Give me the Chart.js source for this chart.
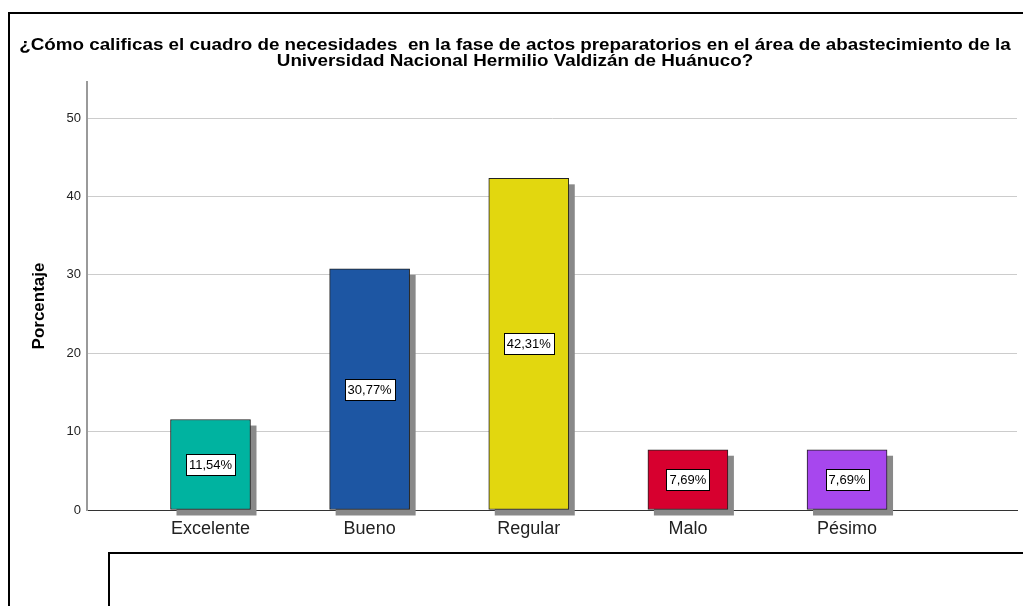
<!DOCTYPE html>
<html><head><meta charset="utf-8">
<script src="https://cdn.jsdelivr.net/npm/chart.js@4.4.0/dist/chart.umd.min.js"></script>
<style>html,body{margin:0;padding:0;background:#fff;}#wrap{width:1023px;height:606px;}</style>
</head><body><div id="wrap"><canvas id="c" width="1023" height="606"></canvas></div>
<script>
const titleLines = ['¿Cómo calificas el cuadro de necesidades  en la fase de actos preparatorios en el área de abastecimiento de la', 'Universidad Nacional Hermilio Valdizán de Huánuco?'];
const categories = ['Excelente', 'Bueno', 'Regular', 'Malo', 'Pésimo'];
const percentages = [11.54, 30.77, 42.31, 7.69, 7.69];
const valueLabels = ['11,54%', '30,77%', '42,31%', '7,69%', '7,69%'];
const barColors = ['#00B3A0', '#1D56A3', '#E2D70F', '#D7002F', '#A747EE'];
const yTitle = 'Porcentaje';

const FONT = "'Liberation Sans', Arial, sans-serif";

const framePlugin = {
  id: 'frame',
  beforeDraw(chart) {
    const ctx = chart.ctx;
    ctx.save();
    ctx.fillStyle = '#fff';
    ctx.fillRect(0, 0, chart.width, chart.height);
    ctx.strokeStyle = '#000';
    ctx.lineWidth = 2;
    ctx.beginPath();
    ctx.moveTo(9, chart.height + 5); ctx.lineTo(9, 13); ctx.lineTo(chart.width + 5, 13);
    ctx.stroke();
    ctx.beginPath();
    ctx.moveTo(109, chart.height + 5); ctx.lineTo(109, 553); ctx.lineTo(chart.width + 5, 553);
    ctx.stroke();
    ctx.restore();
  }
};

const titlePlugin = {
  id: 'wideTitle',
  afterDraw(chart) {
    const ctx = chart.ctx;
    ctx.save();
    ctx.font = 'bold 16px ' + FONT;
    ctx.fillStyle = '#000';
    ctx.textAlign = 'center';
    ctx.textBaseline = 'alphabetic';
    const sx = 1.175;
    ctx.translate(515, 0);
    ctx.scale(sx, 1);
    ctx.fillText(titleLines[0], 0, 50);
    ctx.fillText(titleLines[1], 0, 66);
    ctx.restore();
  }
};

const shadowPlugin = {
  id: 'barShadow',
  beforeDatasetsDraw(chart) {
    const ctx = chart.ctx;
    const meta = chart.getDatasetMeta(0);
    ctx.save();
    ctx.fillStyle = '#898989';
    meta.data.forEach(el => {
      const p = el.getProps(['x', 'y', 'base', 'width'], true);
      ctx.fillRect(p.x - p.width / 2 + 6, p.y + 6, p.width, p.base - p.y);
    });
    ctx.restore();
  }
};

const labelPlugin = {
  id: 'valueBoxes',
  afterDatasetsDraw(chart) {
    const ctx = chart.ctx;
    const meta = chart.getDatasetMeta(0);
    ctx.save();
    ctx.font = '13px ' + FONT;
    ctx.textAlign = 'center';
    ctx.textBaseline = 'middle';
    meta.data.forEach((el, i) => {
      const p = el.getProps(['x', 'y', 'base'], true);
      const cy = (p.y + p.base) / 2;
      const w = ctx.measureText(valueLabels[i]).width + 6;
      const h = 21;
      ctx.fillStyle = '#fff';
      ctx.fillRect(Math.round(p.x - w / 2) + 0.5, Math.round(cy - h / 2) + 0.5, Math.round(w), h);
      ctx.strokeStyle = '#000';
      ctx.lineWidth = 1;
      ctx.strokeRect(Math.round(p.x - w / 2) + 0.5, Math.round(cy - h / 2) + 0.5, Math.round(w), h);
      ctx.fillStyle = '#000';
      ctx.fillText(valueLabels[i], p.x, cy + 1);
    });
    ctx.restore();
  }
};

const yTitlePlugin = {
  id: 'yTitle',
  afterDraw(chart) {
    const ctx = chart.ctx;
    ctx.save();
    ctx.translate(39, 306);
    ctx.rotate(-Math.PI / 2);
    ctx.font = 'bold 17px ' + FONT;
    ctx.fillStyle = '#000';
    ctx.textAlign = 'center';
    ctx.textBaseline = 'middle';
    ctx.fillText(yTitle, 0, 0);
    ctx.restore();
  }
};

new Chart(document.getElementById('c'), {
  type: 'bar',
  data: {
    datasets: [{
      data: categories.map((c, i) => ({ x: i, y: percentages[i] })),
      backgroundColor: barColors,
      borderColor: '#222',
      borderWidth: 1,
      borderSkipped: false,
      barThickness: 80
    }]
  },
  options: {
    responsive: false,
    devicePixelRatio: 1,
    animation: false,
    layout: { padding: { left: 0, right: 6, top: 82, bottom: 0 } },
    plugins: {
      legend: { display: false },
      tooltip: { enabled: false },
      title: { display: false }
    },
    scales: {
      x: {
        type: 'linear',
        offset: false,
        min: -0.776,
        max: 5.068,
        afterFit(s) { s.height = 96; },
        afterBuildTicks(s) { s.ticks = categories.map((c, i) => ({ value: i })); },
        grid: { display: false, drawTicks: false, offset: false },
        border: { display: true, color: '#333', width: 1 },
        ticks: {
          autoSkip: false,
          maxRotation: 0,
          padding: 8,
          color: '#222',
          font: { family: FONT, size: 18 },
          callback: (v) => categories[v]
        }
      },
      y: {
        min: 0,
        max: 54.6,
        afterFit(s) { s.width = 87; },
        grid: {
          drawTicks: false,
          color: (c) => (c.tick && c.tick.value === 0) ? 'rgba(0,0,0,0)' : '#cccccc',
          lineWidth: 1
        },
        border: { display: true, color: '#9a9a9a', width: 2 },
        ticks: {
          stepSize: 10,
          includeBounds: false,
          padding: 6,
          color: '#222',
          font: { family: FONT, size: 13 }
        }
      }
    }
  },
  plugins: [framePlugin, shadowPlugin, labelPlugin, yTitlePlugin, titlePlugin]
});
</script>
</body></html>
